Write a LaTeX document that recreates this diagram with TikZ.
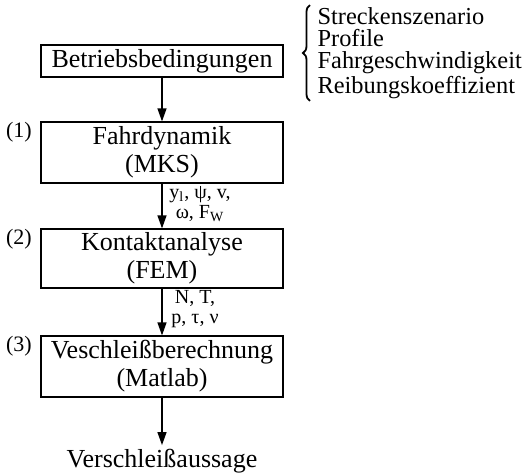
\documentclass[tikz,border=0pt]{standalone}
\usepackage{fontspec}
\setmainfont{Liberation Serif}
\usetikzlibrary{arrows.meta, decorations.pathreplacing}

\begin{document}
\begin{tikzpicture}[x=0.5pt, y=-0.5pt, line width=0.6pt,
    >={Triangle[length=6.5pt, width=4.5pt]},
    every node/.style={inner sep=0pt},
    stufe/.style={draw, minimum width=121pt, align=center,
        font=\fontsize{13}{14}\selectfont},
    groesse/.style={align=center, font=\fontsize{10}{10}\selectfont},
    nummer/.style={anchor=north east, font=\fontsize{11}{12}\selectfont}]
    \useasboundingbox (0,0) rectangle (524,472);

    % Ablauf
    \node[stufe, minimum height=16pt] (betrieb) at (162,61) {Betriebsbedingungen};
    \node[stufe, minimum height=30.5pt] (fahr) at (162,152.5) {Fahrdynamik\\(MKS)};
    \node[stufe, minimum height=29.5pt] (kontakt) at (162,258.5) {Kontaktanalyse\\(FEM)};
    \node[stufe, minimum height=30.5pt] (verschl) at (162,366.5) {Veschleißberechnung\\(Matlab)};
    \node[anchor=base, inner sep=1.5pt, font=\fontsize{13}{14}\selectfont] (aussage) at (162,467) {Verschleißaussage};

    % Nummern
    \node[nummer] (n1) at ([xshift=-4pt]fahr.north west) {(1)};
    \node[nummer] (n2) at ([xshift=-4pt]kontakt.north west) {(2)};
    \node[nummer] (n3) at ([xshift=-4pt]verschl.north west) {(3)};

    % Pfeile
    \draw[->] (betrieb.south) -- (fahr.north);
    \draw[->] (fahr.south) -- (kontakt.north);
    \draw[->] (kontakt.south) -- (verschl.north);
    \draw[->] (verschl.south) -- (aussage.north);

    % Groessen
    \node[groesse] (g1) at (200,204) {y\textsubscript{l}, ψ, v,\\ω, F\textsubscript{W}};
    \node[groesse] (g2) at (195,309) {N, T,\\p, τ, ν};

    % Eingangsdaten
    \node[anchor=west, align=left, font=\fontsize{12.2}{11}\selectfont] (liste) at (317,53)
        {Streckenszenario\\Profile\\Fahrgeschwindigkeit\\Reibungskoeffizient};
    \draw[line width=0.9pt, decorate, decoration={brace, amplitude=3.5pt}]
        ([xshift=-3.5pt, yshift=-1pt]liste.south west) -- ([xshift=-3.5pt, yshift=1pt]liste.north west);
\end{tikzpicture}
\end{document}
